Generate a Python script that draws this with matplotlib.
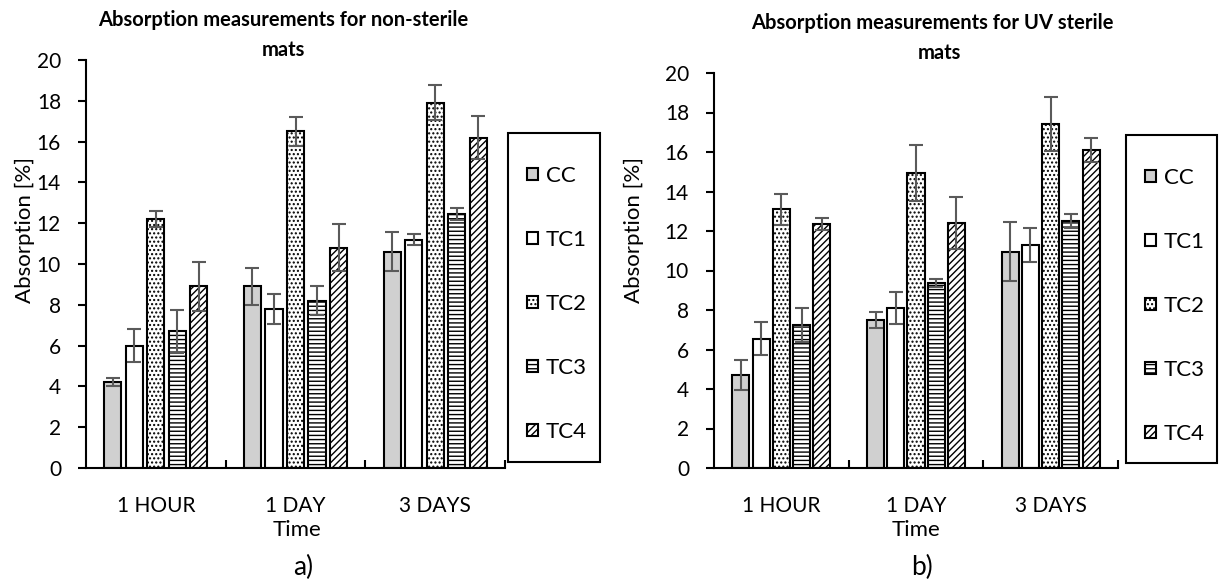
import numpy as np
import matplotlib.pyplot as plt
from matplotlib.patches import Rectangle

plt.rcParams['font.family'] = ['Lato', 'DejaVu Sans']
plt.rcParams['hatch.linewidth'] = 1.0

# data
times = ['1 HOUR', '1 DAY', '3 DAYS']
series = ['CC', 'TC1', 'TC2', 'TC3', 'TC4']

# non-sterile mats (a)
ns_vals = {
    'CC':  [4.2, 8.9, 10.6],
    'TC1': [6.0, 7.8, 11.2],
    'TC2': [12.2, 16.5, 17.9],
    'TC3': [6.7, 8.2, 12.45],
    'TC4': [8.9, 10.8, 16.2],
}
ns_err = {
    'CC':  [0.2, 0.9, 0.95],
    'TC1': [0.8, 0.75, 0.25],
    'TC2': [0.4, 0.7, 0.85],
    'TC3': [1.05, 0.7, 0.3],
    'TC4': [1.2, 1.15, 1.05],
}

# UV sterile mats (b)
uv_vals = {
    'CC':  [4.7, 7.5, 10.95],
    'TC1': [6.55, 8.1, 11.3],
    'TC2': [13.1, 14.95, 17.4],
    'TC3': [7.25, 9.35, 12.5],
    'TC4': [12.35, 12.4, 16.1],
}
uv_err = {
    'CC':  [0.75, 0.4, 1.5],
    'TC1': [0.85, 0.8, 0.85],
    'TC2': [0.78, 1.42, 1.37],
    'TC3': [0.86, 0.2, 0.34],
    'TC4': [0.3, 1.33, 0.6],
}

styles = {
    'CC':  dict(color='#d0d0d0', hatch=None),
    'TC1': dict(color='white', hatch=None),
    'TC2': dict(color='white', hatch='....'),
    'TC3': dict(color='white', hatch='----'),
    'TC4': dict(color='white', hatch='/////'),
}

W, H = 1219, 588
fig = plt.figure(figsize=(W / 100, H / 100), dpi=100)


def draw_panel(rect, vals, errs, width, step):
    ax = fig.add_axes(rect)
    x = np.arange(len(times))
    for i, s in enumerate(series):
        ax.bar(x + (i - 2) * step, vals[s], width, yerr=errs[s],
               color=styles[s]['color'], hatch=styles[s]['hatch'],
               edgecolor='black', linewidth=1.5, label=s,
               error_kw=dict(ecolor='#5a5a5a', elinewidth=1.5,
                             capsize=5, capthick=1.5))
    ax.set_xlim(-0.5, 2.5)
    ax.set_ylim(0, 20)
    ax.set_yticks(range(0, 21, 2))
    ax.set_xticks([0.5, 1.5, 2.5])
    ax.set_xticklabels([])
    ax.set_xticks(x, minor=True)
    ax.set_xticklabels(times, minor=True)
    ax.tick_params(axis='x', which='major', direction='in', length=6, width=1.5)
    ax.tick_params(axis='x', which='minor', length=0, pad=20, labelsize=15)
    ax.tick_params(axis='y', direction='out', length=6, width=1.5,
                   labelsize=15, pad=12)
    for sp in ['top', 'right']:
        ax.spines[sp].set_visible(False)
    for sp in ['left', 'bottom']:
        ax.spines[sp].set_linewidth(1.5)
    return ax


def px(x0, y0, x1, y1):
    return [x0 / W, 1 - y1 / H, (x1 - x0) / W, (y1 - y0) / H]


ax1 = draw_panel(px(86, 60, 505, 468), ns_vals, ns_err, 0.122, 0.154)
ax2 = draw_panel(px(714, 73, 1118, 468), uv_vals, uv_err, 0.127, 0.15)

# legends: entries placed without frame, box drawn separately
for ax, box in [(ax1, (508, 133, 600, 462)), (ax2, (1126, 135, 1217, 463))]:
    h, l = ax.get_legend_handles_labels()
    fig.legend(h, l, loc='upper left',
               bbox_to_anchor=((box[0] + 19) / W, 1 - (box[1] + 33) / H),
               borderaxespad=0, borderpad=0, fontsize=16, handlelength=0.5,
               handleheight=0.5, handletextpad=0.35, labelspacing=1.98,
               frameon=False)
    fig.patches.append(Rectangle((box[0] / W, 1 - box[3] / H),
                                 (box[2] - box[0]) / W, (box[3] - box[1]) / H,
                                 transform=fig.transFigure, fill=False,
                                 edgecolor='black', linewidth=1.5))

# titles
fig.text(283 / W, 1 - 20 / H, 'Absorption measurements for non-sterile',
         ha='center', va='center', fontsize=14.5, fontweight='bold')
fig.text(283 / W, 1 - 50 / H, 'mats', ha='center', va='center',
         fontsize=14.5, fontweight='bold')
fig.text(932 / W, 1 - 23 / H, 'Absorption measurements for UV sterile',
         ha='center', va='center', fontsize=14.5, fontweight='bold')
fig.text(939 / W, 1 - 53 / H, 'mats', ha='center', va='center',
         fontsize=14.5, fontweight='bold')

# axis labels
for xl, xt, tag in [(25, 297, 'a)'), (634, 916, 'b)')]:
    fig.text(xl / W, 1 - 230 / H, 'Absorption [%]', rotation=90,
             ha='center', va='center', fontsize=16)
    fig.text(xt / W, 1 - 530 / H, 'Time', ha='center', va='center', fontsize=16)
    fig.text((xt + 6) / W, 1 - 567 / H, tag, ha='center', va='center', fontsize=19)

fig.savefig('out.png', dpi=100)
